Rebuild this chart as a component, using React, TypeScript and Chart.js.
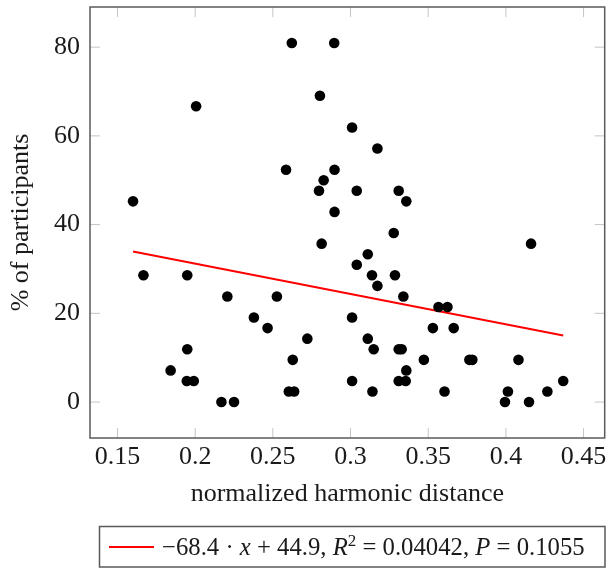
import React, { useEffect, useRef } from 'react';
import { Chart, registerables } from 'chart.js';

Chart.register(...registerables);

const xValues = [
  0.16, 0.1667, 0.1842, 0.1949, 0.1949, 0.1946, 0.1991, 0.2006, 0.2169, 0.225,
  0.2207, 0.2378, 0.2466, 0.2526, 0.2585, 0.2603, 0.2637, 0.2628, 0.2622, 0.2722,
  0.2797, 0.2803, 0.2814, 0.2827, 0.2895, 0.2897, 0.2897, 0.301, 0.301, 0.301,
  0.304, 0.304, 0.3111, 0.3111, 0.3138, 0.3141, 0.3149, 0.3173, 0.3173, 0.3278,
  0.3286, 0.331, 0.331, 0.3329, 0.331, 0.3355, 0.334, 0.3359, 0.3359, 0.3472,
  0.353, 0.3566, 0.3624, 0.3605, 0.3664, 0.3765, 0.3784, 0.3994, 0.4013, 0.4081,
  0.4149, 0.4162, 0.4267, 0.4369,
];
const yValues = [
  45.24, 28.57, 7.14, 28.57, 11.9, 4.76, 4.76, 66.67, 0, 0,
  23.81, 19.05, 16.67, 23.81, 52.38, 2.38, 2.38, 9.52, 80.95, 14.29,
  47.62, 69.05, 35.71, 50.0, 80.95, 52.38, 42.86, 61.9, 19.05, 4.76,
  47.62, 30.95, 33.33, 14.29, 28.57, 2.38, 11.9, 57.14, 26.19, 38.1,
  28.57, 47.62, 11.9, 11.9, 4.76, 4.76, 23.81, 45.24, 7.14, 9.52,
  16.67, 21.43, 21.43, 2.38, 16.67, 9.52, 9.52, 0, 2.38, 9.52,
  0, 35.71, 2.38, 4.76,
];
const fitX = [0.16, 0.4369];
const fitY = [33.96, 15.02];

const xTicks = [0.15, 0.2, 0.25, 0.3, 0.35, 0.4, 0.45];
const xTickLabels = ['0.15', '0.2', '0.25', '0.3', '0.35', '0.4', '0.45'];
const yTicks = [0, 20, 40, 60, 80];
const yTickLabels = ['0', '20', '40', '60', '80'];
const xMin = 0.1323;
const xMax = 0.4636;
const yMin = -8.1;
const yMax = 89.05;

const xTitle = 'normalized harmonic distance';
const yTitle = '% of participants';
const legendParts = [
  { t: '\u221268.4 \u00b7 ', i: false, sup: false },
  { t: 'x', i: true, sup: false },
  { t: ' + 44.9, ', i: false, sup: false },
  { t: 'R', i: true, sup: false },
  { t: '2', i: false, sup: true },
  { t: ' = 0.04042, ', i: false, sup: false },
  { t: 'P', i: true, sup: false },
  { t: ' = 0.1055', i: false, sup: false },
];

const FAMILY = '"Liberation Serif", "Times New Roman", serif';
const FS = 26;
const TEXT = '#1a1a1a';

const framePlugin = {
  id: 'pgfFrame',
  beforeDatasetsDraw(chart: any) {
    const { ctx, chartArea: a, scales } = chart;
    const x = scales.x;
    const y = scales.y;
    ctx.save();
    ctx.strokeStyle = '#c4c4c4';
    ctx.lineWidth = 1;
    ctx.beginPath();
    const L = 10;
    xTicks.forEach((v) => {
      const px = x.getPixelForValue(v);
      ctx.moveTo(px, a.bottom);
      ctx.lineTo(px, a.bottom - L);
      ctx.moveTo(px, a.top);
      ctx.lineTo(px, a.top + L);
    });
    yTicks.forEach((v) => {
      const py = y.getPixelForValue(v);
      ctx.moveTo(a.left, py);
      ctx.lineTo(a.left + L, py);
      ctx.moveTo(a.right, py);
      ctx.lineTo(a.right - L, py);
    });
    ctx.stroke();
    ctx.strokeStyle = '#5a5a5a';
    ctx.lineWidth = 1.5;
    ctx.strokeRect(a.left, a.top, a.right - a.left, a.bottom - a.top);
    ctx.restore();
  },
};

const legendPlugin = {
  id: 'pgfLegend',
  afterDraw(chart: any) {
    const { ctx } = chart;
    const bx = 99.5, by = 526.5, bw = 505.5, bh = 40.5;
    ctx.save();
    ctx.fillStyle = '#ffffff';
    ctx.fillRect(bx, by, bw, bh);
    ctx.strokeStyle = '#5a5a5a';
    ctx.lineWidth = 1.5;
    ctx.strokeRect(bx, by, bw, bh);
    ctx.strokeStyle = '#ff0000';
    ctx.lineWidth = 2;
    ctx.beginPath();
    ctx.moveTo(109, 547);
    ctx.lineTo(154, 547);
    ctx.stroke();

    const target = 423;
    const fontFor = (p: any, s: number) =>
      `${p.i ? 'italic ' : ''}${p.sup ? Math.round(s * 0.7) : s}px ${FAMILY}`;
    let total = 0;
    legendParts.forEach((p) => {
      ctx.font = fontFor(p, FS);
      total += ctx.measureText(p.t).width;
    });
    const s = FS * Math.min(1.1, target / total);
    let cx = 162;
    const base = 555;
    ctx.fillStyle = TEXT;
    ctx.textBaseline = 'alphabetic';
    ctx.textAlign = 'left';
    legendParts.forEach((p) => {
      ctx.font = fontFor(p, s);
      ctx.fillText(p.t, cx, p.sup ? base - s * 0.38 : base);
      cx += ctx.measureText(p.t).width;
    });
    ctx.restore();
  },
};

export default function App() {
  const ref = useRef<HTMLCanvasElement | null>(null);

  useEffect(() => {
    if (!ref.current) return;
    const font = { family: FAMILY, size: FS };
    const chart = new Chart(ref.current, {
      type: 'scatter',
      data: {
        datasets: [
          {
            label: 'data',
            data: xValues.map((x, i) => ({ x, y: yValues[i] })),
            backgroundColor: '#000000',
            borderColor: '#000000',
            borderWidth: 0,
            pointRadius: 5.3,
            pointHoverRadius: 5.3,
            order: 1,
          },
          {
            label: 'fit',
            type: 'line' as any,
            data: fitX.map((x, i) => ({ x, y: fitY[i] })),
            borderColor: '#ff0000',
            borderWidth: 2,
            pointRadius: 0,
            showLine: true,
            fill: false,
            order: 2,
          } as any,
        ],
      },
      options: {
        animation: false,
        responsive: false,
        events: [],
        layout: { padding: { top: 7, right: 3, bottom: 0, left: 0 } },
        plugins: {
          legend: { display: false },
          tooltip: { enabled: false },
        },
        scales: {
          x: {
            type: 'linear',
            min: xMin,
            max: xMax,
            afterBuildTicks: (s: any) => {
              s.ticks = xTicks.map((v) => ({ value: v }));
            },
            afterFit: (s: any) => {
              s.height = 131;
              s.paddingLeft = 0;
              s.paddingRight = 0;
              s.paddingTop = 0;
              s.paddingBottom = 0;
            },
            ticks: {
              callback: (v: any) => {
                const idx = xTicks.findIndex((t) => Math.abs(t - v) < 1e-9);
                return idx >= 0 ? xTickLabels[idx] : '';
              },
              font,
              color: TEXT,
              padding: 4,
              maxRotation: 0,
              autoSkip: false,
            },
            grid: { display: false, drawTicks: false },
            border: { display: false },
            title: {
              display: true,
              text: xTitle,
              font,
              color: TEXT,
              padding: { top: 0, bottom: 59 },
            },
          },
          y: {
            type: 'linear',
            min: yMin,
            max: yMax,
            afterBuildTicks: (s: any) => {
              s.ticks = yTicks.map((v) => ({ value: v }));
            },
            afterFit: (s: any) => {
              s.width = 90;
              s.paddingLeft = 0;
              s.paddingRight = 0;
              s.paddingTop = 0;
              s.paddingBottom = 0;
            },
            ticks: {
              callback: (v: any) => {
                const idx = yTicks.findIndex((t) => Math.abs(t - v) < 1e-9);
                return idx >= 0 ? yTickLabels[idx] : '';
              },
              font,
              color: TEXT,
              padding: 10,
              autoSkip: false,
            },
            grid: { display: false, drawTicks: false },
            border: { display: false },
            title: {
              display: true,
              text: yTitle,
              font,
              color: TEXT,
              padding: { top: 6, bottom: 0 },
            },
          },
        },
      },
      plugins: [framePlugin, legendPlugin],
    });
    return () => chart.destroy();
  }, []);

  return (
    <div style={{ position: 'absolute', left: 0, top: 0, width: 610, height: 569, background: '#fff' }}>
      <canvas ref={ref} width={610} height={569} style={{ display: 'block' }} />
    </div>
  );
}
